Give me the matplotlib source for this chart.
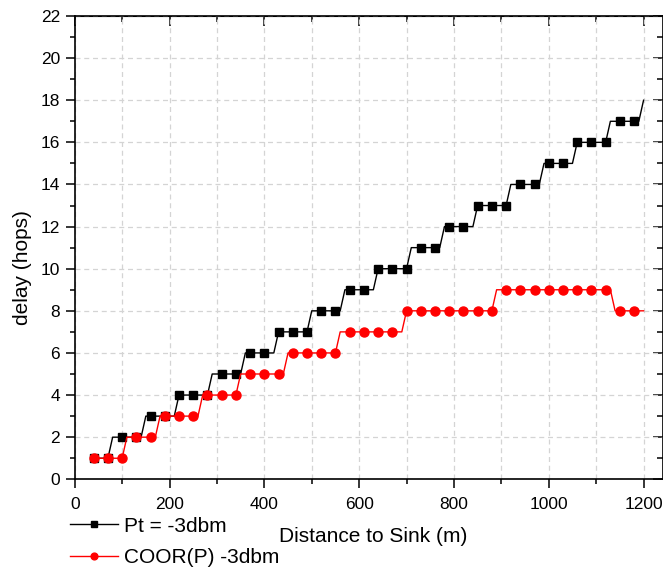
import numpy as np
import matplotlib
matplotlib.use("Agg")
import matplotlib.pyplot as plt
from matplotlib.ticker import MultipleLocator

plt.rcParams['font.family'] = ['Liberation Sans', 'DejaVu Sans']

# distance to sink (m), sampled every 10 m from 40 to 1200
distance = np.arange(40, 1201, 10)

# delay in hops, one row per plateau
delay_pt = ([1] * 4 + [2] * 7 + [3] * 7 + [4] * 7 + [5] * 7 + [6] * 7 +
            [7] * 7 + [8] * 7 + [9] * 7 + [10] * 7 + [11] * 7 + [12] * 7 +
            [13] * 7 + [14] * 7 + [15] * 7 + [16] * 7 + [17] * 7 + [18] * 1)
delay_coor = ([1] * 7 + [2] * 7 + [3] * 9 + [4] * 8 + [5] * 10 + [6] * 11 +
              [7] * 14 + [8] * 19 + [9] * 25 + [8] * 7)

labels = ["Pt = -3dbm", "COOR(P) -3dbm"]

fig = plt.figure(figsize=(6.63, 5.71), dpi=100)
ax = fig.add_axes([0.1127, 0.1606, 0.8873, 0.8114])

ax.grid(True, which='major', axis='y', color='#d4d4d4', linestyle=(0, (4, 3)), linewidth=0.9)
ax.grid(True, which='both', axis='x', color='#d4d4d4', linestyle=(0, (4, 3)), linewidth=0.9)

l1, = ax.plot(distance, delay_pt, color='black', lw=1.0, marker='s', ms=5.8,
              markevery=3, label=labels[0], zorder=3)
l2, = ax.plot(distance, delay_coor, color='#ff0000', lw=1.0, marker='o', ms=6.5,
              markevery=3, label=labels[1], zorder=4)

ax.set_xlim(0, 1241)
ax.set_ylim(0, 22)
ax.xaxis.set_major_locator(MultipleLocator(200))
ax.xaxis.set_minor_locator(MultipleLocator(100))
ax.yaxis.set_major_locator(MultipleLocator(2))
ax.yaxis.set_minor_locator(MultipleLocator(1))
ax.tick_params(which='major', direction='out', length=6.5, width=1.1, labelsize=12.5, pad=4)
ax.tick_params(axis='x', which='major', pad=6)
ax.tick_params(which='minor', direction='out', length=3.8, width=1.1)
for s in ax.spines.values():
    s.set_linewidth(1.2)

# inward ticks on top and right
top = ax.secondary_xaxis('top')
top.xaxis.set_major_locator(MultipleLocator(200))
top.xaxis.set_minor_locator(MultipleLocator(100))
top.tick_params(which='major', direction='in', length=7, width=1.1, labeltop=False)
top.tick_params(which='minor', direction='in', length=4.5, width=1.1)
right = ax.secondary_yaxis('right')
right.yaxis.set_major_locator(MultipleLocator(2))
right.yaxis.set_minor_locator(MultipleLocator(1))
right.tick_params(which='major', direction='in', length=7, width=1.1, labelright=False)
right.tick_params(which='minor', direction='in', length=4.5, width=1.1)

ax.set_xlabel("Distance to Sink (m)", fontsize=15, va='center')
ax.xaxis.set_label_coords(0.507, -0.1245)
ax.set_ylabel("delay (hops)", fontsize=15, va='center')
ax.yaxis.set_label_coords(-0.0896, 0.458)

fig.legend(handles=[l1, l2], loc='upper left', bbox_to_anchor=(0.105, 0.095),
           frameon=False, fontsize=15, handlelength=2.3, handletextpad=0.3,
           labelspacing=0.6, markerscale=0.75, borderaxespad=0, borderpad=0)

fig.savefig("out.png", dpi=100)
